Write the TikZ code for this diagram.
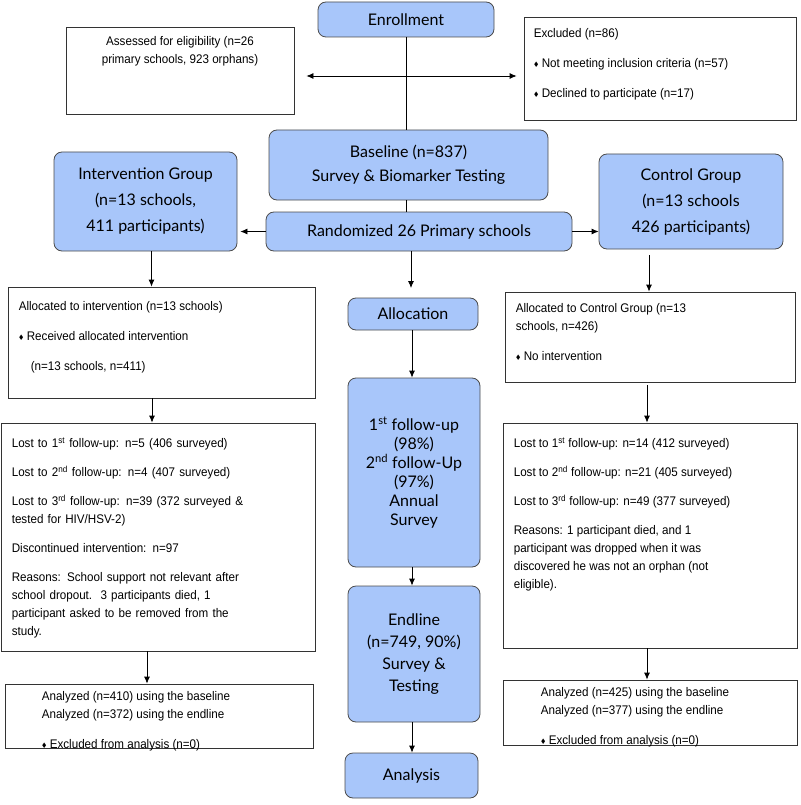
\documentclass[tikz,border=0pt]{standalone}
\usepackage{fontspec}
\usepackage{amssymb}
\setmainfont[FakeStretch=0.93]{Liberation Sans}
\newfontfamily\bluefont{Lato}
\usetikzlibrary{arrows.meta,positioning}
\definecolor{boxblue}{RGB}{168,198,250}
\newcommand{\dmd}{\raisebox{1pt}{$\scriptscriptstyle\blacklozenge$}\ }
\tikzset{
  bluebox/.style={rectangle, rounded corners=8pt, draw=black!70, fill=boxblue, thick, align=center, font=\bluefont\fontsize{16}{24}\selectfont},
  whitebox/.style={rectangle, draw=black!80, thick},
  boxtext/.style={anchor=north west, inner sep=0pt, align=left, font=\fontsize{12.5}{18}\selectfont},
  arr/.style={-{Latex[length=7pt,width=6pt]}, thick}
}
\begin{document}
\begin{tikzpicture}[x=1pt, y=-1pt]
    \useasboundingbox (0,0) rectangle (800,805);

    % top row
    \node[bluebox, minimum width=176pt, minimum height=35pt] (enroll) at (406,19.5) {Enrollment};
    \node[whitebox, minimum width=228pt, minimum height=87pt] (assess) at (180,70.5) {};
    \node[whitebox, minimum width=272pt, minimum height=103pt] (excl) at (660,68.5) {};
    \node[boxtext, align=center, anchor=north, yshift=-10pt] (assesst) at (assess.north) {Assessed for eligibility (n=26\\primary schools, 923 orphans)};
    \node[boxtext, xshift=10pt, yshift=-12pt] (exclt) at (excl.north west) {Excluded (n=86)\\[12pt]\dmd Not meeting inclusion criteria (n=57)\\[12pt]\dmd Declined to participate (n=17)};

    % randomisation
    \node[bluebox, minimum width=279pt, minimum height=70pt] (base) at (408.5,165) {Baseline (n=837)\\Survey \& Biomarker Testing};
    \node[bluebox, minimum width=306pt, minimum height=39pt] (rand) at (419,231.5) {Randomized 26 Primary schools};
    \node[bluebox, minimum width=183pt, minimum height=99pt, font=\bluefont\fontsize{16}{26}\selectfont] (interv) at (145.5,201.5) {Intervention Group\\(n=13 schools,\\411 participants)};
    \node[bluebox, minimum width=184pt, minimum height=95pt, font=\bluefont\fontsize{16}{26}\selectfont] (ctrl) at (691,201.5) {Control Group\\(n=13 schools\\426 participants)};

    % centre column
    \node[bluebox, minimum width=130pt, minimum height=32pt] (alloc) at (413,314) {Allocation};
    \node[bluebox, minimum width=132pt, minimum height=189pt, font=\bluefont\fontsize{16}{19}\selectfont] (follow) at (414,472.5) {1\textsuperscript{st} follow-up\\(98\%)\\2\textsuperscript{nd} follow-Up\\(97\%)\\Annual\\Survey};
    \node[bluebox, minimum width=132pt, minimum height=136pt, font=\bluefont\fontsize{16}{22}\selectfont] (endl) at (414,654) {Endline\\(n=749, 90\%)\\Survey \&\\Testing};
    \node[bluebox, minimum width=133pt, minimum height=45pt] (anal) at (411.5,775.5) {Analysis};

    % left column
    \node[whitebox, minimum width=307pt, minimum height=111pt] (allocL) at (161.5,342.5) {};
    \node[boxtext, xshift=11pt, yshift=-15pt] at (allocL.north west) {Allocated to intervention (n=13 schools)\\[12pt]\dmd Received allocated intervention\\[12pt]\hspace*{12pt}(n=13 schools, n=411)};
    \node[whitebox, minimum width=314pt, minimum height=228pt] (lostL) at (158,537) {};
    \node[boxtext, xshift=11pt, yshift=-15pt, text width=290pt] at (lostL.north west) {Lost to 1\textsuperscript{st} follow-up: n=5 (406 surveyed)\\[11pt]Lost to 2\textsuperscript{nd} follow-up: n=4 (407 surveyed)\\[11pt]Lost to 3\textsuperscript{rd} follow-up: n=39 (372 surveyed \&\\tested for HIV/HSV-2)\\[11pt]Discontinued intervention: n=97\\[11pt]Reasons: School support not relevant after\\school dropout.\ \ 3 participants died, 1\\participant asked to be removed from the\\study.};
    \node[whitebox, minimum width=308pt, minimum height=64pt] (anaL) at (159,716) {};
    \node[boxtext, xshift=37pt, yshift=-8pt] at (anaL.north west) {Analyzed (n=410) using the baseline\\Analyzed (n=372) using the endline\\[12pt]\dmd Excluded from analysis (n=0)};

    % right column
    \node[whitebox, minimum width=290pt, minimum height=90pt] (allocR) at (650,337) {};
    \node[boxtext, xshift=11pt, yshift=-12pt] at (allocR.north west) {Allocated to Control Group (n=13\\schools, n=426)\\[12pt]\dmd No intervention};
    \node[whitebox, minimum width=294pt, minimum height=225pt] (lostR) at (650,535.5) {};
    \node[boxtext, xshift=11pt, yshift=-15pt] at (lostR.north west) {Lost to 1\textsuperscript{st} follow-up: n=14 (412 surveyed)\\[11pt]Lost to 2\textsuperscript{nd} follow-up: n=21 (405 surveyed)\\[11pt]Lost to 3\textsuperscript{rd} follow-up: n=49 (377 surveyed)\\[11pt]Reasons: 1 participant died, and 1\\participant was dropped when it was\\discovered he was not an orphan (not\\eligible).};
    \node[whitebox, minimum width=294pt, minimum height=65pt] (anaR) at (650,712.5) {};
    \node[boxtext, xshift=38pt, yshift=-8pt] at (anaR.north west) {Analyzed (n=425) using the baseline\\Analyzed (n=377) using the endline\\[12pt]\dmd Excluded from analysis (n=0)};

    % connectors
    \coordinate (split) at (enroll.south |- 0,76);
    \draw[thick] (enroll.south) -- (enroll.south |- base.north);
    \draw[arr] (split) -- ([xshift=12pt]split -| assess.east);
    \draw[arr] (split) -- ([xshift=-7pt]split -| excl.west);
    \draw[thick] (base.south -| enroll.south) -- (rand.north -| enroll.south);
    \draw[arr] (rand.west) -- ([xshift=3pt]interv.east |- rand.west);
    \draw[arr] (rand.east) -- (ctrl.west |- rand.east);
    \draw[arr] ([xshift=-8pt]rand.south) -- ([xshift=-8pt]rand.south |- 0,288);
    \draw[arr] ([xshift=6pt]interv.south) -- ([xshift=6pt]interv.south |- allocL.north);
    \draw[arr] ([xshift=-42pt,yshift=-6pt]ctrl.south) -- ([xshift=-42pt]ctrl.south |- allocR.north);
    \draw[arr] (alloc.south -| 412,0) -- (follow.north -| 412,0);
    \draw[arr] (follow.south -| 412,0) -- (endl.north -| 412,0);
    \draw[arr] (endl.south -| 412,0) -- (anal.north -| 412,0);
    \draw[arr] (allocL.south -| 152,0) -- (lostL.north -| 152,0);
    \draw[arr] (lostL.south -| 147,0) -- (anaL.north -| 147,0);
    \draw[arr] ([yshift=-3pt]allocR.south -| 647,0) -- (lostR.north -| 647,0);
    \draw[arr] (lostR.south -| 647,0) -- (anaR.north -| 647,0);
\end{tikzpicture}
\end{document}
